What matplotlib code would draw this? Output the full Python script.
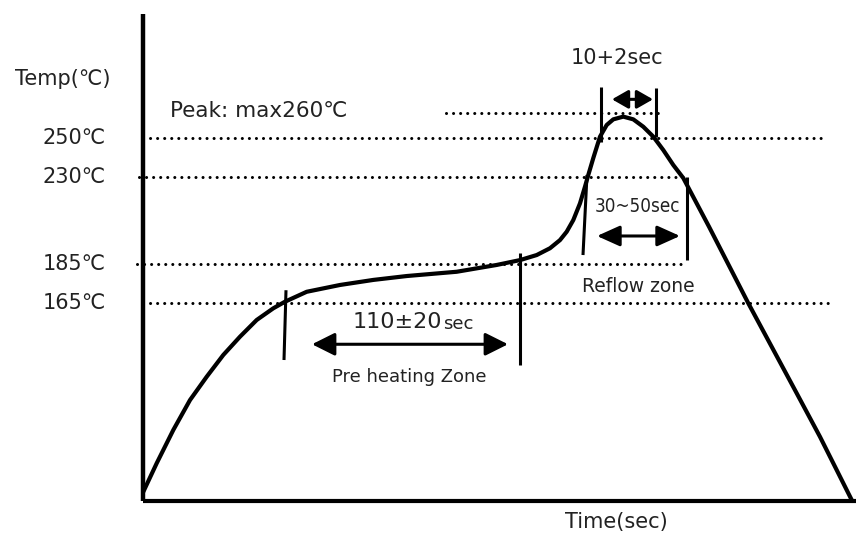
import matplotlib
matplotlib.use("Agg")
import matplotlib.pyplot as plt

plt.rcParams['font.family'] = ['DejaVu Sans', 'Noto Sans CJK KR']
TXT = '#222222'

# reflow profile curve (schematic time units, temperature in degC)
time = [143.3, 156.7, 173.3, 190.0, 206.7, 223.3, 240.0, 256.7, 273.3, 285.0,
        306.7, 340.0, 373.3, 406.7, 456.7, 496.7, 520.0, 536.7, 550.0, 560.0,
        566.7, 573.3, 580.0, 585.0, 588.3, 593.3, 600.0, 606.7, 613.3, 623.3,
        633.3, 643.3, 653.3, 663.3, 673.3, 683.3, 709.0, 748.3, 796.7, 820.0,
        836.7, 851.7]
temp = [67.9, 82.6, 99.7, 115.1, 127.1, 138.3, 147.7, 156.3, 162.3, 165.7,
        170.8, 174.3, 176.9, 178.9, 181.1, 184.6, 187.1, 189.7, 193.2, 197.4,
        201.7, 207.7, 216.3, 224.9, 230.9, 239.6, 250.6, 256.6, 259.5, 260.9,
        259.5, 255.7, 250.6, 243.7, 236.0, 229.3, 204.3, 164.9, 118.6, 96.2,
        79.1, 63.7]

# dotted temperature levels: value, start, end
levels = [250, 230, 185, 165]
level_labels = ['250℃', '230℃', '185℃', '165℃']
level_start = [143, 139, 137, 143]
level_end = [827, 684, 682, 828]
peak_level = 263
peak_start, peak_end = 446, 660

# zone markers: x top, x bottom, temp top, temp bottom
markers = [
    (286, 284, 171.6, 135.7),
    (520, 520, 190.7, 133.2),
    (587, 583, 230.9, 189.7),
    (687, 687, 230.0, 187.1),
    (601, 601, 276.3, 248.0),
    (656, 656, 275.6, 250.6),
]

# double arrows: x from, x to, temp, head length, head width
arrows = [
    (312, 508, 143.8, 1.0, 0.5),
    (597, 680, 199.5, 1.0, 0.45),
    (612, 653, 269.8, 0.7, 0.4),
]

x0, base, top = 142.7, 63.2, 313.7
x_end = 856

fig = plt.figure(figsize=(8.59, 5.37), dpi=100)
ax = fig.add_axes([0, 0, 1, 1])
ax.set_xlim(0, 859)
ax.set_ylim(44.65, 320.9)
ax.axis('off')

# axes
ax.plot([x0, x0], [base, top], color='black', lw=3.2, solid_capstyle='butt')
ax.plot([x0, x_end], [base, base], color='black', lw=3.0, solid_capstyle='butt')

# dotted levels
for v, s, e in zip(levels, level_start, level_end):
    ax.plot([s, e], [v, v], color='black', lw=2.2,
            linestyle=(0, (0.01, 2.3)), dash_capstyle='round')
ax.plot([peak_start, peak_end], [peak_level, peak_level], color='black', lw=2.2,
        linestyle=(0, (0.01, 2.3)), dash_capstyle='round')

# profile curve
ax.plot(time, temp, color='black', lw=3.0, solid_joinstyle='round',
        solid_capstyle='round')

for xt, xb, tt, tb in markers:
    ax.plot([xt, xb], [tt, tb], color='black', lw=2.2, solid_capstyle='butt')

for xa, xb, t, hl, hw in arrows:
    ax.annotate('', xy=(xb, t), xytext=(xa, t),
                arrowprops=dict(arrowstyle=f'<|-|>,head_length={hl},head_width={hw}',
                                lw=2.2, color='black', shrinkA=0, shrinkB=0,
                                mutation_scale=14))

# labels
for v, lab in zip(levels, level_labels):
    ax.text(106, v, lab, ha='right', va='center', fontsize=15, color=TXT)

ax.text(63, 280.3, 'Temp(℃)', ha='center', va='center', fontsize=15, color=TXT)
ax.text(170, 263.9, 'Peak: max260℃', ha='left', va='center', fontsize=15.5, color=TXT)
ax.text(617, 291.2, '10+2sec', ha='center', va='center', fontsize=15, color=TXT)
ax.text(637, 214.6, '30~50sec', ha='center', va='center', fontsize=13.5,
        color=TXT, fontstretch='condensed')
ax.text(638, 173.4, 'Reflow zone', ha='center', va='center', fontsize=13.5, color=TXT)
ax.text(442, 155.4, '110±20', ha='right', va='center', fontsize=16, color=TXT)
ax.text(443, 154.0, 'sec', ha='left', va='center', fontsize=13, color=TXT)
ax.text(409, 127.0, 'Pre heating Zone', ha='center', va='center', fontsize=13, color=TXT)
ax.text(616, 52.5, 'Time(sec)', ha='center', va='center', fontsize=15, color=TXT)

fig.savefig('out.png', dpi=100)
